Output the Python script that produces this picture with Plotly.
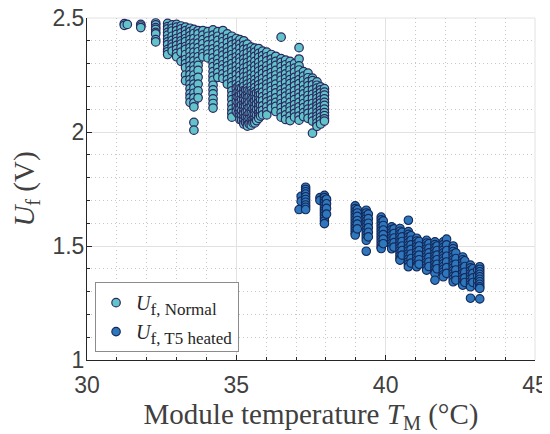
import plotly.graph_objects as go

# ---------------- data ----------------
# Normal operation: module temperature columns (degC) and forward voltages (V)
normal_temp = [31.25, 31.35, 31.8, 32.3, 32.7, 32.85, 33.0, 33.15, 33.3, 33.45, 33.58, 33.72,
               33.88, 34.05, 34.22, 34.38, 34.55, 34.7, 34.85, 35.0, 35.06, 35.12, 35.18,
               35.25, 35.31, 35.37, 35.43, 35.5, 35.56, 35.62, 35.68, 35.75, 35.81, 35.88,
               36.02, 36.17, 36.32, 36.5, 36.65, 36.8, 36.95, 37.1, 37.25, 37.4, 37.55,
               37.7, 37.82, 37.95]
normal_volt = [
    [2.475, 2.468],
    [2.472],
    [2.472, 2.465, 2.458],
    [2.478, 2.47, 2.458, 2.45, 2.437, 2.43, 2.405, 2.395],
    [2.476, 2.462, 2.452, 2.437, 2.425, 2.408, 2.395, 2.383, 2.362, 2.352, 2.34],
    [2.47, 2.455, 2.443, 2.42, 2.402, 2.385, 2.372, 2.355],
    [2.472, 2.46, 2.445, 2.428, 2.41, 2.397, 2.38, 2.362, 2.345, 2.33],
    [2.465, 2.452, 2.435, 2.417, 2.40, 2.386, 2.37, 2.35, 2.31],
    [2.46, 2.445, 2.428, 2.41, 2.396, 2.375, 2.362, 2.34, 2.318, 2.30, 2.282, 2.25, 2.225],
    [2.455, 2.44, 2.422, 2.405, 2.388, 2.37, 2.352, 2.33, 2.312, 2.29, 2.27, 2.252, 2.23,
     2.21, 2.19, 2.168, 2.15, 2.13],
    [2.45, 2.432, 2.41, 2.39, 2.372, 2.35, 2.33, 2.312, 2.29, 2.272, 2.25, 2.23, 2.21,
     2.192, 2.17, 2.15, 2.128, 2.11, 2.042, 2.008],
    [2.445, 2.43, 2.408, 2.39, 2.37, 2.352, 2.33, 2.31, 2.292, 2.27, 2.24, 2.21, 2.18, 2.15],
    [2.445, 2.425, 2.405, 2.387, 2.365, 2.345, 2.33],
    [2.44, 2.42, 2.40, 2.382, 2.36, 2.342, 2.325],
    [2.448, 2.425, 2.407, 2.385, 2.365, 2.347, 2.325, 2.305, 2.287, 2.265, 2.245, 2.227,
     2.205, 2.185, 2.167, 2.145, 2.125, 2.105],
    [2.44, 2.42, 2.402, 2.38, 2.36, 2.342, 2.32, 2.30, 2.282, 2.26, 2.24],
    [2.445, 2.415, 2.397, 2.375, 2.355, 2.337, 2.315, 2.295, 2.277, 2.255, 2.235],
    [2.43, 2.41, 2.392, 2.37, 2.35, 2.332, 2.31, 2.29, 2.272, 2.25, 2.23, 2.21],
    [2.42, 2.40, 2.382, 2.36, 2.34, 2.322, 2.30, 2.28, 2.262, 2.24, 2.22, 2.202, 2.18, 2.16,
     2.142, 2.12, 2.10, 2.082, 2.065],
    [2.41, 2.39, 2.372, 2.35, 2.33, 2.312, 2.29, 2.27, 2.252, 2.23, 2.21, 2.192, 2.17, 2.15,
     2.132, 2.11, 2.09],
    [2.20, 2.176, 2.152, 2.128, 2.104, 2.08],
    [2.405, 2.385, 2.367, 2.345, 2.325, 2.307, 2.285, 2.265, 2.247, 2.225, 2.205, 2.19,
     2.172, 2.16, 2.142, 2.13, 2.112, 2.10, 2.082, 2.07, 2.055],
    [2.19, 2.166, 2.142, 2.118, 2.094, 2.07, 2.052],
    [2.40, 2.38, 2.362, 2.34, 2.32, 2.302, 2.28, 2.26, 2.242, 2.22, 2.20, 2.182, 2.17,
     2.152, 2.14, 2.122, 2.11, 2.092, 2.08, 2.062, 2.05, 2.035],
    [2.184, 2.16, 2.136, 2.112, 2.088, 2.064, 2.042],
    [2.385, 2.365, 2.347, 2.325, 2.305, 2.287, 2.265, 2.245, 2.227, 2.21, 2.192, 2.18,
     2.162, 2.15, 2.132, 2.12, 2.102, 2.09, 2.072, 2.06, 2.045, 2.032, 2.026],
    [2.178, 2.154, 2.13, 2.106, 2.082, 2.058, 2.036],
    [2.372, 2.355, 2.337, 2.315, 2.295, 2.277, 2.255, 2.235, 2.217, 2.20, 2.182, 2.17,
     2.152, 2.14, 2.122, 2.11, 2.092, 2.08, 2.062, 2.05, 2.038, 2.03],
    [2.174, 2.15, 2.126, 2.102, 2.078, 2.054, 2.04],
    [2.368, 2.35, 2.332, 2.31, 2.29, 2.272, 2.25, 2.23, 2.212, 2.195, 2.177, 2.165, 2.147,
     2.135, 2.117, 2.105, 2.087, 2.075, 2.057, 2.045, 2.04],
    [2.17, 2.146, 2.122, 2.098, 2.074, 2.05],
    [2.366, 2.345, 2.327, 2.305, 2.285, 2.267, 2.245, 2.225, 2.207, 2.19, 2.172, 2.16,
     2.142, 2.13, 2.112, 2.10, 2.082, 2.07, 2.06],
    [2.165, 2.141, 2.117, 2.093, 2.07],
    [2.355, 2.335, 2.317, 2.295, 2.275, 2.257, 2.235, 2.215, 2.197, 2.175, 2.155, 2.137,
     2.115, 2.095, 2.075],
    [2.35, 2.33, 2.312, 2.29, 2.27, 2.252, 2.23, 2.21, 2.192, 2.17, 2.15, 2.132, 2.11, 2.09,
     2.075],
    [2.34, 2.32, 2.302, 2.28, 2.26, 2.242, 2.22, 2.20, 2.182, 2.16, 2.14, 2.122, 2.105],
    [2.332, 2.31, 2.292, 2.27, 2.25, 2.232, 2.21, 2.19, 2.172, 2.15, 2.13, 2.112, 2.09],
    [2.416, 2.322, 2.305, 2.287, 2.265, 2.245, 2.227, 2.205, 2.185, 2.167, 2.145, 2.125,
     2.107, 2.085, 2.065],
    [2.315, 2.295, 2.277, 2.255, 2.235, 2.217, 2.195, 2.175, 2.157, 2.135, 2.115, 2.097,
     2.075, 2.055],
    [2.31, 2.29, 2.272, 2.25, 2.23, 2.212, 2.19, 2.17, 2.152, 2.13, 2.11, 2.092, 2.07, 2.05],
    [2.30, 2.28, 2.262, 2.24, 2.22, 2.202, 2.18, 2.16, 2.142, 2.12, 2.10, 2.082, 2.065],
    [2.37, 2.32, 2.29, 2.272, 2.25, 2.23, 2.212, 2.19, 2.17, 2.152, 2.13, 2.11, 2.092, 2.07,
     2.052],
    [2.265, 2.245, 2.227, 2.205, 2.185, 2.167, 2.145, 2.125, 2.107, 2.085, 2.068],
    [2.258, 2.238, 2.22, 2.202, 2.18, 2.16, 2.142, 2.12, 2.10, 2.082, 2.06],
    [2.236, 2.225, 2.207, 2.185, 2.165, 2.147, 2.125, 2.105, 2.087, 2.065, 2.048, 1.995],
    [2.22, 2.205, 2.192, 2.175, 2.16, 2.147, 2.13, 2.115, 2.102, 2.085, 2.07, 2.057, 2.04,
     2.025],
    [2.198, 2.185, 2.172, 2.155, 2.14, 2.127, 2.11, 2.095, 2.082, 2.065, 2.05, 2.035],
    [2.19, 2.175, 2.162, 2.145, 2.13, 2.117, 2.10, 2.085, 2.072, 2.058, 2.048],
]

# T5 heated: module temperature columns (degC) and forward voltages (V)
heated_temp = [37.10, 37.17, 37.32, 37.80, 37.95, 38.02, 38.98, 39.05, 39.35, 39.42,
               39.85, 39.92, 40.20, 40.28, 40.48, 40.55, 40.76, 40.85, 41.04, 41.12,
               41.37, 41.45, 41.65, 41.72, 41.93, 42.04, 42.26, 42.35, 42.58, 42.65,
               42.84, 42.92, 43.08, 43.15]
heated_volt = [
    [1.660],
    [1.718, 1.696],
    [1.758, 1.748, 1.738, 1.728, 1.716, 1.704, 1.692, 1.680, 1.670, 1.660],
    [1.712, 1.700],
    [1.722, 1.712, 1.700, 1.690, 1.678, 1.666, 1.656, 1.645, 1.634, 1.622, 1.610, 1.598],
    [1.705, 1.685, 1.665, 1.640],
    [1.676, 1.664, 1.652, 1.640, 1.628, 1.616, 1.604, 1.592, 1.580, 1.568, 1.556, 1.548],
    [1.660, 1.645, 1.630, 1.612, 1.596, 1.575],
    [1.657, 1.645, 1.633, 1.621, 1.609, 1.597, 1.585, 1.573, 1.561, 1.549, 1.537, 1.525,
     1.477],
    [1.640, 1.620, 1.600, 1.580, 1.560, 1.540],
    [1.627, 1.615, 1.603, 1.591, 1.579, 1.567, 1.555, 1.543, 1.531, 1.519, 1.507, 1.495,
     1.489],
    [1.610, 1.590, 1.570, 1.550, 1.530, 1.510],
    [1.584, 1.572, 1.560, 1.548, 1.536, 1.524, 1.512, 1.500, 1.488],
    [1.575, 1.555, 1.535, 1.515, 1.495],
    [1.577, 1.565, 1.553, 1.541, 1.529, 1.517, 1.505, 1.493, 1.481, 1.469, 1.457, 1.445,
     1.438],
    [1.560, 1.540, 1.520, 1.500, 1.480, 1.460],
    [1.613, 1.563, 1.551, 1.539, 1.527, 1.515, 1.503, 1.491, 1.479, 1.467, 1.455, 1.443,
     1.431, 1.420, 1.409],
    [1.545, 1.525, 1.505, 1.485, 1.465, 1.445, 1.425],
    [1.534, 1.522, 1.510, 1.498, 1.486, 1.474, 1.462, 1.450, 1.438, 1.426, 1.415, 1.409],
    [1.520, 1.500, 1.480, 1.460, 1.440, 1.420],
    [1.525, 1.513, 1.501, 1.489, 1.477, 1.465, 1.453, 1.441, 1.429, 1.417, 1.405, 1.394],
    [1.510, 1.490, 1.470, 1.450, 1.430, 1.410],
    [1.518, 1.506, 1.494, 1.482, 1.470, 1.458, 1.446, 1.434, 1.422, 1.410, 1.398, 1.386,
     1.380, 1.350],
    [1.500, 1.480, 1.460, 1.440, 1.420, 1.400],
    [1.518, 1.506, 1.494, 1.482, 1.470, 1.458, 1.446, 1.434, 1.422, 1.410, 1.398, 1.386,
     1.374, 1.365],
    [1.530, 1.505, 1.480, 1.455, 1.430, 1.405, 1.380],
    [1.500, 1.488, 1.476, 1.464, 1.452, 1.440, 1.428, 1.416, 1.404, 1.392, 1.380, 1.368,
     1.356, 1.343],
    [1.470, 1.445, 1.420, 1.395, 1.370, 1.350],
    [1.452, 1.440, 1.428, 1.416, 1.404, 1.392, 1.380, 1.368, 1.356, 1.344, 1.334, 1.328],
    [1.435, 1.410, 1.385, 1.360, 1.340],
    [1.416, 1.404, 1.392, 1.380, 1.368, 1.356, 1.344, 1.332, 1.321, 1.271],
    [1.400, 1.380, 1.360, 1.340],
    [1.395, 1.370, 1.345, 1.325],
    [1.409, 1.398, 1.387, 1.376, 1.365, 1.354, 1.343, 1.332, 1.321, 1.314, 1.268],
]

x_ticks = [30, 35, 40, 45]
y_ticks = [1, 1.5, 2, 2.5]
legend_names = [
    "<i>U</i><sub><span style='font-size:17px'>f, Normal</span></sub>",
    "<i>U</i><sub><span style='font-size:17px'>f, T5 heated</span></sub>",
]


def expand(temps, volts):
    xs, ys = [], []
    for t, col in zip(temps, volts):
        for v in col:
            xs.append(t)
            ys.append(v)
    return xs, ys


nx, ny = expand(normal_temp, normal_volt)
hx, hy = expand(heated_temp, heated_volt)

fig = go.Figure()
fig.add_trace(go.Scatter(
    x=nx, y=ny, mode="markers", name=legend_names[0],
    marker=dict(size=8.5, color="#62c3c8", line=dict(color="#2b2760", width=1.2)),
))
fig.add_trace(go.Scatter(
    x=hx, y=hy, mode="markers", name=legend_names[1],
    marker=dict(size=8.5, color="#2f77bd", line=dict(color="#13295a", width=1.1)),
))

axis_common = dict(
    automargin=False,
    showline=True, linecolor="#262626", linewidth=1,
    ticks="inside", ticklen=5, tickcolor="#262626",
    showgrid=True, gridcolor="#e2e2e2", gridwidth=1,
    zeroline=False, ticklabeloverflow="allow",
    tickfont=dict(family="Liberation Sans, Arial", size=23, color="#404040"),
    title_font=dict(family="Liberation Serif, Times New Roman", size=29, color="#404040"),
)

# the page body adds an 8 px offset, so margins are shifted accordingly
fig.update_layout(
    width=550, height=434,
    margin=dict(l=79, r=23, t=10, b=82, autoexpand=False),
    paper_bgcolor="white", plot_bgcolor="white",
    showlegend=True,
    legend=dict(
        x=0.018, y=0.023, xanchor="left", yanchor="bottom",
        bgcolor="white", bordercolor="#8c8c8c", borderwidth=1,
        font=dict(family="Liberation Serif, Times New Roman", size=20, color="#262626"),
        itemwidth=30, tracegroupgap=0,
    ),
)
fig.update_xaxes(
    **axis_common, range=[30, 45], tickvals=x_ticks, ticklabelstandoff=4,
    title_text="Module temperature <i>T</i><sub>M</sub> (°C)", title_standoff=3,
    minor=dict(dtick=1, showgrid=True, gridcolor="#c8c8c8", griddash="1px,3px",
               ticks="inside", ticklen=3, tickcolor="#262626"),
)
fig.update_yaxes(
    **axis_common, range=[1, 2.5], tickvals=y_ticks, ticklabelstandoff=-3,
    title_text="<i>U</i><sub>f</sub> (V)", title_standoff=15,
    minor=dict(dtick=0.1, showgrid=True, gridcolor="#c8c8c8", griddash="1px,3px",
               ticks="inside", ticklen=3, tickcolor="#262626"),
)
# light box edges on top and right (grid lines at the limits)
fig.add_shape(type="line", xref="paper", yref="paper", x0=0, x1=1, y0=1, y1=1,
              line=dict(color="#e2e2e2", width=1), layer="below")
fig.add_shape(type="line", xref="paper", yref="paper", x0=1, x1=1, y0=0, y1=1,
              line=dict(color="#e2e2e2", width=1), layer="below")

fig.write_html("out.html")
